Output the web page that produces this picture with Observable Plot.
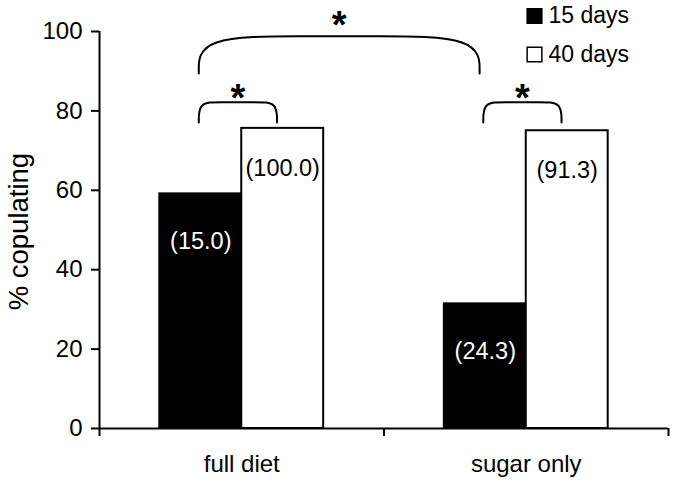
<!DOCTYPE html>
<html>
<head>
<meta charset="utf-8">
<script src="https://cdn.jsdelivr.net/npm/d3@7"></script>
<script src="https://cdn.jsdelivr.net/npm/@observablehq/plot@0.6"></script>
<style>
  html, body { margin: 0; padding: 0; background: #fff; }
  #chart svg { display: block; }
</style>
</head>
<body>
<div id="chart"></div>
<script>
// ---- data ----
const groups = ["full diet", "sugar only"];
const series = ["15 days", "40 days"];
const pct15 = [59.1, 31.4];
const pct40 = [75.6, 75.0];
const lab15 = ["(15.0)", "(24.3)"];
const lab40 = ["(100.0)", "(91.3)"];
const yTicks = [0, 20, 40, 60, 80, 100];
const yTitle = "% copulating";

// significance brackets (annotations)
const bracketFrom = [["full diet", "15 days"], ["full diet", "15 days"], ["sugar only", "15 days"]];
const bracketTo   = [["sugar only", "15 days"], ["full diet", "40 days"], ["sugar only", "40 days"]];
const bracketTop  = [98.8, 82.2, 82.2];
const bracketFoot = [89.4, 77.1, 77.1];
const starY       = [102.6, 84.4, 84.2];
const starText    = ["*", "*", "*"];

// ---- layout constants ----
const barW = 0.288;
const fills = {"15 days": "black", "40 days": "white"};
const font = "'Liberation Sans', Arial, Helvetica, sans-serif";

const rows = [];
groups.forEach((g, i) => {
  rows.push({group: g, gi: i, series: "15 days", value: pct15[i], label: lab15[i]});
  rows.push({group: g, gi: i, series: "40 days", value: pct40[i], label: lab40[i]});
});
const barX1 = d => d.gi + 0.5 - (d.series === "15 days" ? barW : 0);
const barX2 = d => d.gi + 0.5 + (d.series === "40 days" ? barW : 0);
const barCenter = (g, s) => groups.indexOf(g) + 0.5 + (s === "15 days" ? -barW / 2 : barW / 2);

const brackets = bracketFrom.map((f, k) => {
  const x1 = barCenter(f[0], f[1]) - 0.007;
  const x2 = barCenter(bracketTo[k][0], bracketTo[k][1]) - 0.02;
  return {k, x1, x2, top: bracketTop[k], foot: bracketFoot[k], star: starY[k], text: starText[k]};
});
const bracketPts = brackets.flatMap(b => {
  const c = (b.x2 - b.x1) * (b.k === 0 ? 0.38 : 0.26);
  return [
    {k: b.k, x: b.x1, y: b.foot},
    {k: b.k, x: b.x1, y: b.top},
    {k: b.k, x: b.x1 + c, y: b.top},
    {k: b.k, x: b.x2 - c, y: b.top},
    {k: b.k, x: b.x2, y: b.top},
    {k: b.k, x: b.x2, y: b.foot}
  ];
});

const chart = Plot.plot({
  width: 675,
  height: 483,
  marginLeft: 99,
  marginRight: 7,
  marginTop: 31,
  marginBottom: 55,
  style: {fontFamily: font, fontSize: "23px", color: "black", background: "white"},
  x: {type: "linear", domain: [0, groups.length]},
  y: {domain: [0, 100]},
  marks: [
    Plot.rectY(rows, {x1: barX1, x2: barX2, y: "value", fill: d => fills[d.series], stroke: "black", strokeWidth: 2}),
    Plot.text(rows.filter(d => d.series === "15 days"), {x: d => barX1(d) + barW / 2, y: "value", text: "label", fill: "white", dy: 48, fontSize: 23.5}),
    Plot.text(rows.filter(d => d.series === "40 days"), {x: d => barX1(d) + barW / 2, y: "value", text: "label", fill: "black", dy: 40, fontSize: 23.5}),
    Plot.line(bracketPts, {x: "x", y: "y", z: "k", curve: "basis", stroke: "black", strokeWidth: 2}),
    Plot.text(brackets, {x: d => (d.x1 + d.x2) / 2, y: "star", text: "text", fontSize: 38, fontWeight: "bold", dy: 5}),
    // axes
    Plot.axisY({ticks: yTicks, tickSize: 8, tickPadding: 9, strokeWidth: 2, label: null, fontSize: 24}),
    Plot.axisX({ticks: d3.range(groups.length + 1), tickFormat: () => "", tickSize: 8, strokeWidth: 2, label: null}),
    Plot.ruleX([0], {y1: 0, y2: 100, strokeWidth: 2}),
    Plot.ruleY([0], {x1: 0, x2: groups.length, strokeWidth: 2}),
    Plot.text(groups, {x: (d, i) => i + 0.5, y: 0, text: d => d, dy: 35.5, fontSize: 24}),
    Plot.text([yTitle], {frameAnchor: "left", textAnchor: "middle", lineAnchor: "middle", text: d => d, rotate: -90, dx: -80, dy: 1.6, fontSize: 27.5}),
    // legend
    ...series.map((s, i) => Plot.dot([s], {frameAnchor: "top-left", dx: 435, dy: -15.5 + i * 38.5, symbol: "square", r: 8.3, fill: fills[s], stroke: "black", strokeWidth: 1.5})),
    ...series.map((s, i) => Plot.text([s], {frameAnchor: "top-left", lineAnchor: "middle", text: d => d, textAnchor: "start", dx: 449, dy: -16 + i * 39, fontSize: 23}))
  ]
});
document.getElementById("chart").appendChild(chart);
</script>
</body>
</html>
